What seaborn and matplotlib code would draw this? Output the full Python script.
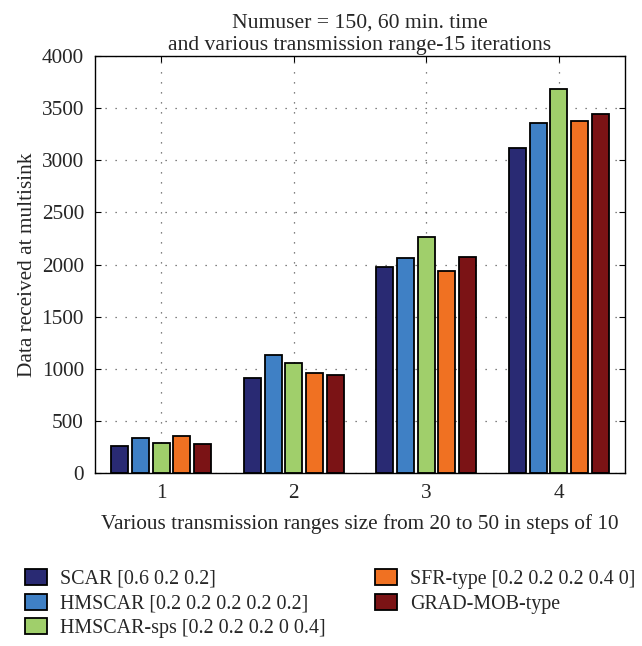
import matplotlib
matplotlib.use("Agg")
import matplotlib.pyplot as plt
import seaborn as sns
import pandas as pd

# Transmission range groups (x axis)
ranges = ["1", "2", "3", "4"]

# Data received at multisink for each scheme
scar = [260, 913, 1972, 3122]
hmscar = [340, 1132, 2064, 3355]
hmscar_sps = [286, 1052, 2262, 3680]
sfr_type = [353, 961, 1938, 3374]
grad_mob = [279, 938, 2076, 3441]

series_names = [
    "SCAR [0.6 0.2 0.2]",
    "HMSCAR [0.2 0.2 0.2 0.2 0.2]",
    "HMSCAR-sps [0.2 0.2 0.2 0 0.4]",
    "SFR-type [0.2 0.2 0.2 0.4 0]",
    "GRAD-MOB-type",
]
series_values = [scar, hmscar, hmscar_sps, sfr_type, grad_mob]
colors = ["#292a73", "#3f80c5", "#a0cf6b", "#f07122", "#7b1315"]

rows = []
for name, vals in zip(series_names, series_values):
    for r, v in zip(ranges, vals):
        rows.append({"range": r, "scheme": name, "value": v})
df = pd.DataFrame(rows)

sns.set_theme(style="white")
plt.rcParams["font.family"] = ["Liberation Serif", "DejaVu Serif"]

FS = 15.3

fig = plt.figure(figsize=(6.42, 6.46), dpi=100)
ax = fig.add_axes([95 / 642, 1 - 473 / 646, 530 / 642, 417 / 646])

sns.barplot(
    data=df, x="range", y="value", hue="scheme", order=ranges,
    hue_order=series_names, palette=dict(zip(series_names, colors)),
    saturation=1, edgecolor="black", linewidth=1.3, width=0.78, gap=0.17,
    errorbar=None, ax=ax,
)

ax.set_xlim(-0.5, 3.5)
ax.set_ylim(0, 4000)
ax.set_yticks(range(0, 4001, 500))
ax.grid(True, which="major", axis="both", color="0.35",
        linestyle=(0, (1, 7)), linewidth=0.9)
ax.set_axisbelow(True)
for sp in ax.spines.values():
    sp.set_visible(True)
    sp.set_color("black")
    sp.set_linewidth(1.0)
ax.tick_params(axis="both", which="both", direction="in", length=4,
               width=0.8, color="black", top=True, right=True,
               bottom=True, left=True, labelsize=FS)
ax.tick_params(axis="y", pad=8)
ax.tick_params(axis="x", pad=8)

ax.set_xlabel("Various transmission ranges size from 20 to 50 in steps of 10",
              fontsize=FS, labelpad=8)
ax.set_ylabel("Data received at multisink", fontsize=FS, labelpad=3)
ax.set_title("Numuser = 150, 60 min. time\nand various transmission range-15 iterations",
             fontsize=15.6, pad=4, linespacing=1.25)

sns.move_legend(
    ax, loc="upper left", bbox_to_anchor=(25 / 642, 1 - 569 / 646),
    bbox_transform=fig.transFigure, ncol=2, frameon=False, title=None,
    fontsize=14.4, handlelength=1.1, handleheight=0.85, handletextpad=0.64,
    labelspacing=0.24, columnspacing=2.5, borderaxespad=0, borderpad=0,
)

fig.savefig("out.png", dpi=100)
